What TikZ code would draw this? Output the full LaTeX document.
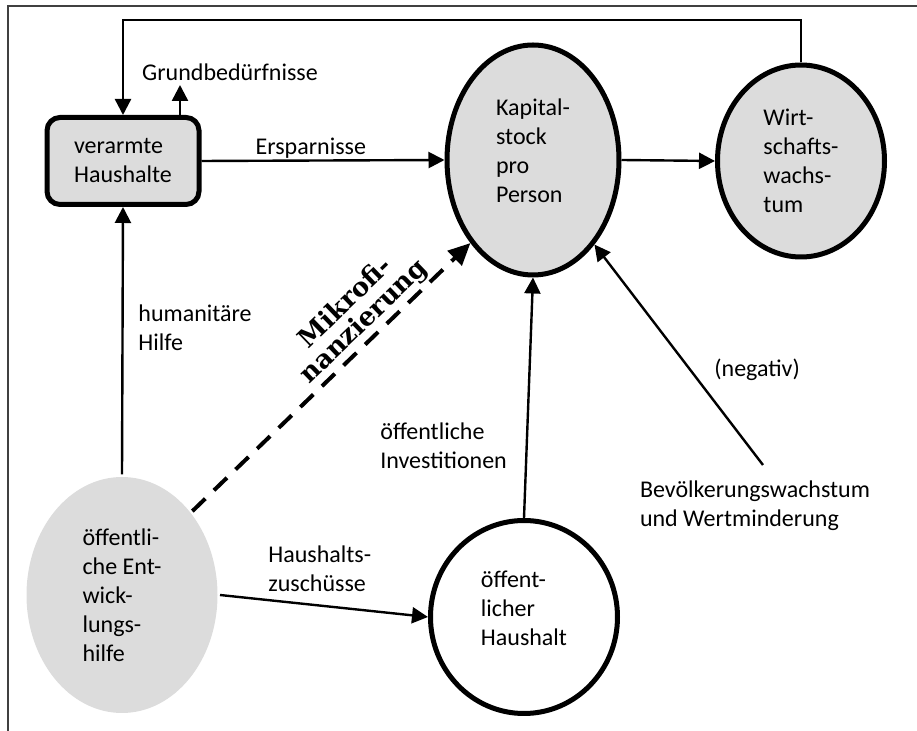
\documentclass[tikz,border=0pt]{standalone}
\usepackage{fontspec}
\setmainfont{Carlito}
\newfontfamily\heavyfont{DejaVu Serif}
\usepackage{xcolor}
\usepackage{tikz}
\usetikzlibrary{arrows.meta,shapes}
\definecolor{fillgray}{RGB}{220,220,220}
\begin{document}
\begin{tikzpicture}[x=0.5pt,y=-0.5pt,>={Triangle[length=8pt,width=8pt]},
every node/.style={font=\fontsize{12}{14.5}\selectfont},
blob/.style={ellipse,draw,line width=2.5pt,fill=fillgray,align=left,inner sep=0pt},
arr/.style={->,line width=1.2pt}]
\useasboundingbox (0,0) rectangle (917,731);
\draw[line width=1pt,black!75](917,6)--(8,6)--(8,731);
\node[draw,rounded corners=6.5pt,line width=2.5pt,fill=fillgray,minimum width=76pt,minimum height=43.5pt,align=left] (haus) at (123,161) {verarmte\\Haushalte};
\node[blob,text depth=9pt,minimum width=86pt,minimum height=115pt] (kap) at (533,160) {Kapital-\\stock\\pro\\Person};
\node[blob,minimum width=83.5pt,minimum height=96pt] (wirt) at (801,161) {Wirt-\\schafts-\\wachs-\\tum};
\node[blob,fill=white,text depth=9pt,minimum width=93.5pt,minimum height=96.5pt] (oeh) at (524,617) {öffent-\\licher\\Haushalt};
\node[blob,draw=none,minimum width=95.5pt,minimum height=118pt] (ent) at (122,595) {öffentli-\\che Ent-\\wick-\\lungs-\\hilfe};
\coordinate (loop) at (123,20);
\draw[arr](wirt.north)|-(loop)--(haus.north);
\coordinate (needs) at (180,85);
\draw[arr](needs|-haus.north)--(needs);
\node (needslbl) at (230,72) {Grundbedürfnisse};
\draw[arr](haus.east)--node[above=-3pt,pos=0.45]{Ersparnisse}(kap.west);
\draw[arr](kap.east)--(wirt.west);
\draw[arr](ent.north)--node[right=4pt,pos=0.55,align=left]{humanitäre\\Hilfe}(haus.south);
\draw[->,line width=2pt,dash pattern=on 9pt off 6pt,>={Triangle[length=11pt,width=10pt]}](ent.50)--node[sloped,above,pos=0.66,inner sep=1pt,align=center,font=\heavyfont\bfseries\fontsize{13}{13}\selectfont]{Mikrofi-\\nanzierung}(kap.233);
\draw[arr](ent.east)--node[above=3pt,pos=0.48,align=left]{Haushalts-\\zuschüsse}(oeh.west);
\draw[arr](oeh.north)--node[left=6pt,pos=0.3,align=left]{öffentliche\\Investitionen}(kap.south);
\coordinate (pop) at (763,465);
\node[align=left] (bev) at (755,506) {Bevölkerungswachstum\\und Wertminderung};
\draw[arr](pop)--node[right=8pt,pos=0.43]{(negativ)}(kap.-54);
\end{tikzpicture}
\end{document}
